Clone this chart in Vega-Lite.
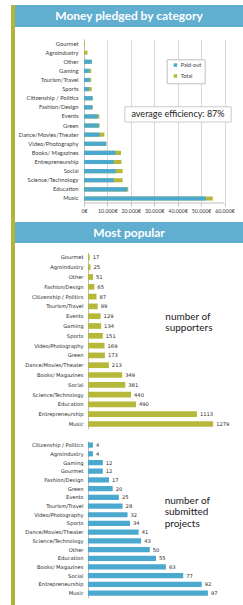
{
  "$schema": "https://vega.github.io/schema/vega-lite/v6.json",
  "padding": {"left": 11, "top": 5, "right": 0, "bottom": 0},
  "background": "white",
  "config": {
    "view": {"stroke": null},
    "font": "Lato",
    "axis": {"labelColor": "#404040", "domainColor": "#bfbfbf", "tickColor": "#bfbfbf", "labelFont": "Lato", "labelOverlap": false},
    "axisX": {"labelOverlap": false}
  },
  "spacing": 0,
  "resolve": {"legend": {"color": "independent"}},
  "hconcat": [
    {
      "width": 4,
      "height": 600,
      "view": {"fill": "#b2b43a", "stroke": null},
      "data": {"values": [{"t": ""}]},
      "mark": {"type": "text"},
      "encoding": {"text": {"field": "t"}}
    },
    {
      "spacing": 8,
      "resolve": {"legend": {"color": "independent"}},
      "vconcat": [
        {
          "spacing": 12,
          "resolve": {"legend": {"color": "independent"}},
          "vconcat": [
            {
              "width": 228,
              "height": 22,
              "view": {"fill": "#60aed0", "stroke": null},
              "data": {"values": [{"title": "Money pledged by category"}]},
              "mark": {"type": "text", "color": "white", "fontSize": 12, "fontWeight": "bold", "font": "Lato", "align": "center", "baseline": "middle"},
              "encoding": {"text": {"field": "title"}}
            },
            {
              "width": 209.5,
              "height": 164,
              "resolve": {"scale": {"y": "independent"}},
              "layer": [
                {
                  "data": {"values": [
                    {"category": "Gourmet", "series": "Total", "amount": 400},
                    {"category": "Agroindustry", "series": "Total", "amount": 1500},
                    {"category": "Other", "series": "Total", "amount": 3300},
                    {"category": "Gaming", "series": "Total", "amount": 3100},
                    {"category": "Tourism/Travel", "series": "Total", "amount": 3100},
                    {"category": "Sports", "series": "Total", "amount": 3300},
                    {"category": "Citizenship / Politics", "series": "Total", "amount": 3700},
                    {"category": "Fashion/Design", "series": "Total", "amount": 3700},
                    {"category": "Events", "series": "Total", "amount": 6600},
                    {"category": "Green", "series": "Total", "amount": 6700},
                    {"category": "Dance/Movies/Theater", "series": "Total", "amount": 8700},
                    {"category": "Video/Photography", "series": "Total", "amount": 9600},
                    {"category": "Books/ Magazines", "series": "Total", "amount": 15800},
                    {"category": "Entrepreneurship", "series": "Total", "amount": 16000},
                    {"category": "Social", "series": "Total", "amount": 16500},
                    {"category": "Science/Technology", "series": "Total", "amount": 16500},
                    {"category": "Education", "series": "Total", "amount": 18900},
                    {"category": "Music", "series": "Total", "amount": 55000},
                    {"category": "Gourmet", "series": "Paid-out", "amount": 0},
                    {"category": "Agroindustry", "series": "Paid-out", "amount": 0},
                    {"category": "Other", "series": "Paid-out", "amount": 3300},
                    {"category": "Gaming", "series": "Paid-out", "amount": 2300},
                    {"category": "Tourism/Travel", "series": "Paid-out", "amount": 2400},
                    {"category": "Sports", "series": "Paid-out", "amount": 2200},
                    {"category": "Citizenship / Politics", "series": "Paid-out", "amount": 3700},
                    {"category": "Fashion/Design", "series": "Paid-out", "amount": 3600},
                    {"category": "Events", "series": "Paid-out", "amount": 5900},
                    {"category": "Green", "series": "Paid-out", "amount": 6300},
                    {"category": "Dance/Movies/Theater", "series": "Paid-out", "amount": 6600},
                    {"category": "Video/Photography", "series": "Paid-out", "amount": 9500},
                    {"category": "Books/ Magazines", "series": "Paid-out", "amount": 13400},
                    {"category": "Entrepreneurship", "series": "Paid-out", "amount": 12700},
                    {"category": "Social", "series": "Paid-out", "amount": 13500},
                    {"category": "Science/Technology", "series": "Paid-out", "amount": 12700},
                    {"category": "Education", "series": "Paid-out", "amount": 18400},
                    {"category": "Music", "series": "Paid-out", "amount": 52000}
                  ]},
                  "mark": {"type": "bar"},
                  "encoding": {
                    "y": {
                      "field": "category", "type": "nominal",
                      "scale": {"domain": ["Gourmet", "Agroindustry", "Other", "Gaming", "Tourism/Travel", "Sports", "Citizenship / Politics", "Fashion/Design", "Events", "Green", "Dance/Movies/Theater", "Video/Photography", "Books/ Magazines", "Entrepreneurship", "Social", "Science/Technology", "Education", "Music"], "paddingInner": 0.55, "paddingOuter": 0.275},
                      "axis": {"title": null, "ticks": false, "offset": -69, "labelPadding": 6, "labelFontSize": 5.8, "labelFont": "Lato", "domainColor": "#bfbfbf"}
                    },
                    "x": {
                      "field": "amount", "type": "quantitative", "stack": null,
                      "scale": {"domain": [-29450, 60000], "nice": false, "zero": false},
                      "axis": {"title": null, "values": [0, 10000, 20000, 30000, 40000, 50000, 60000], "labelExpr": "replace(format(datum.value, ','), ',', '.') + '€'", "grid": true, "gridColor": "#d9d9d9", "domain": false, "tickSize": 3, "labelPadding": 2, "labelFontSize": 5.3, "minExtent": 0, "labelFlush": false, "labelOverlap": false}
                    },
                    "color": {
                      "field": "series", "type": "nominal",
                      "scale": {"domain": ["Paid-out", "Total"], "range": ["#4ba9cf", "#b6b83a"]},
                      "legend": {"orient": "none", "legendX": 151.7, "legendY": 20.3, "title": null, "symbolType": "square", "symbolSize": 12, "labelFontSize": 5.5, "labelFont": "Lato", "labelColor": "#404040", "strokeColor": "#bfbfbf", "fillColor": "white", "padding": 3, "rowPadding": 4, "symbolOffset": 3, "labelOffset": 2.5, "labelExpr": "datum.label + '          '"}
                    },
                    "order": {"field": "series", "sort": "descending"}
                  }
                },
                {
                  "data": {"values": [{"label": "average efficiency: 87%"}]},
                  "layer": [
                    {
                      "mark": {"type": "rule", "color": "#bfbfbf", "strokeWidth": 1},
                      "encoding": {
                        "x": {"datum": 0, "type": "quantitative", "axis": {"title": null, "values": [0, 10000, 20000, 30000, 40000, 50000, 60000], "labelExpr": "replace(format(datum.value, ','), ',', '.') + '€'", "grid": true, "gridColor": "#d9d9d9", "domain": false, "tickSize": 3, "labelPadding": 2, "labelFontSize": 5.3, "minExtent": 0, "labelFlush": false, "labelOverlap": false}},
                        "x2": {"datum": 60000},
                        "y": {"datum": 0, "type": "quantitative", "scale": {"domain": [0, 1]}, "axis": null}
                      }
                    },
                    {
                      "mark": {"type": "rect", "fill": "white", "stroke": "#bfbfbf", "strokeWidth": 0.8},
                      "encoding": {
                        "x": {"datum": 17450, "type": "quantitative", "axis": {"title": null, "values": [0, 10000, 20000, 30000, 40000, 50000, 60000], "labelExpr": "replace(format(datum.value, ','), ',', '.') + '€'", "grid": true, "gridColor": "#d9d9d9", "domain": false, "tickSize": 3, "labelPadding": 2, "labelFontSize": 5.3, "minExtent": 0, "labelFlush": false, "labelOverlap": false}},
                        "x2": {"datum": 62850},
                        "y": {"datum": 0.587, "type": "quantitative", "axis": null},
                        "y2": {"datum": 0.494}
                      }
                    },
                    {
                      "mark": {"type": "text", "font": "Lato", "fontSize": 9, "color": "#222222", "align": "center", "baseline": "middle"},
                      "encoding": {
                        "x": {"datum": 40150, "type": "quantitative", "axis": {"title": null, "values": [0, 10000, 20000, 30000, 40000, 50000, 60000], "labelExpr": "replace(format(datum.value, ','), ',', '.') + '€'", "grid": true, "gridColor": "#d9d9d9", "domain": false, "tickSize": 3, "labelPadding": 2, "labelFontSize": 5.3, "minExtent": 0, "labelFlush": false, "labelOverlap": false}},
                        "y": {"datum": 0.541, "type": "quantitative", "axis": null},
                        "text": {"field": "label"}
                      }
                    }
                  ]
                }
              ]
            }
          ]
        },
        {
          "spacing": 9.5,
          "vconcat": [
            {
              "width": 228,
              "height": 21,
              "view": {"fill": "#60aed0", "stroke": null},
              "data": {"values": [{"title": "Most popular"}]},
              "mark": {"type": "text", "color": "white", "fontSize": 12, "fontWeight": "bold", "font": "Lato", "align": "center", "baseline": "middle"},
              "encoding": {"text": {"field": "title"}}
            },
            {
              "spacing": 11.25,
              "vconcat": [
                {
                  "width": 210,
                  "height": 176.4,
                  "layer": [
                    {
                      "data": {"values": [
                        {"category": "Gourmet", "supporters": 17},
                        {"category": "Agroindustry", "supporters": 25},
                        {"category": "Other", "supporters": 51},
                        {"category": "Fashion/Design", "supporters": 65},
                        {"category": "Citizenship / Politics", "supporters": 87},
                        {"category": "Tourism/Travel", "supporters": 99},
                        {"category": "Events", "supporters": 129},
                        {"category": "Gaming", "supporters": 134},
                        {"category": "Sports", "supporters": 151},
                        {"category": "Video/Photography", "supporters": 169},
                        {"category": "Green", "supporters": 173},
                        {"category": "Dance/Movies/Theater", "supporters": 213},
                        {"category": "Books/ Magazines", "supporters": 349},
                        {"category": "Social", "supporters": 381},
                        {"category": "Science/Technology", "supporters": 440},
                        {"category": "Education", "supporters": 490},
                        {"category": "Entrepreneurship", "supporters": 1113},
                        {"category": "Music", "supporters": 1279}
                      ]},
                      "layer": [
                        {
                          "mark": {"type": "bar", "color": "#b6b83a"},
                          "encoding": {
                            "y": {
                              "field": "category", "type": "nominal",
                              "scale": {"domain": ["Gourmet", "Agroindustry", "Other", "Fashion/Design", "Citizenship / Politics", "Tourism/Travel", "Events", "Gaming", "Sports", "Video/Photography", "Green", "Dance/Movies/Theater", "Books/ Magazines", "Social", "Science/Technology", "Education", "Entrepreneurship", "Music"], "paddingInner": 0.42, "paddingOuter": 0.21},
                              "axis": {"title": null, "ticks": false, "offset": -73, "labelPadding": 5, "labelFont": "DejaVu Sans", "labelFontSize": 5.2, "labelColor": "#2a2a2a", "domainColor": "#bfbfbf"}
                            },
                            "x": {"field": "supporters", "type": "quantitative", "scale": {"domain": [-746, 1400], "nice": false, "zero": false}, "axis": null}
                          }
                        },
                        {
                          "mark": {"type": "text", "align": "left", "baseline": "middle", "dx": 3, "font": "DejaVu Sans", "fontSize": 5.2, "color": "#2a2a2a"},
                          "encoding": {
                            "y": {"field": "category", "type": "nominal"},
                            "x": {"field": "supporters", "type": "quantitative"},
                            "text": {"field": "supporters"}
                          }
                        }
                      ]
                    },
                    {
                      "data": {"values": [{"note": "number of\nsupporters"}]},
                      "mark": {"type": "text", "align": "left", "baseline": "middle", "lineBreak": "\n", "font": "Lato", "fontSize": 10, "lineHeight": 10.6, "color": "#1a1a1a", "dy": 1},
                      "encoding": {"x": {"datum": 790, "type": "quantitative"}, "y": {"datum": "Events", "type": "nominal"}, "text": {"field": "note"}}
                    }
                  ]
                },
                {
                  "width": 209,
                  "height": 156.7,
                  "layer": [
                    {
                      "data": {"values": [
                        {"category": "Citizenship / Politics", "projects": 4},
                        {"category": "Agroindustry", "projects": 4},
                        {"category": "Gaming", "projects": 12},
                        {"category": "Gourmet", "projects": 12},
                        {"category": "Fashion/Design", "projects": 17},
                        {"category": "Green", "projects": 20},
                        {"category": "Events", "projects": 25},
                        {"category": "Tourism/Travel", "projects": 28},
                        {"category": "Video/Photography", "projects": 32},
                        {"category": "Sports", "projects": 34},
                        {"category": "Dance/Movies/Theater", "projects": 41},
                        {"category": "Science/Technology", "projects": 43},
                        {"category": "Other", "projects": 50},
                        {"category": "Education", "projects": 55},
                        {"category": "Books/ Magazines", "projects": 63},
                        {"category": "Social", "projects": 77},
                        {"category": "Entrepreneurship", "projects": 92},
                        {"category": "Music", "projects": 97}
                      ]},
                      "layer": [
                        {
                          "mark": {"type": "bar", "color": "#4ba9cf"},
                          "encoding": {
                            "y": {
                              "field": "category", "type": "nominal",
                              "scale": {"domain": ["Citizenship / Politics", "Agroindustry", "Gaming", "Gourmet", "Fashion/Design", "Green", "Events", "Tourism/Travel", "Video/Photography", "Sports", "Dance/Movies/Theater", "Science/Technology", "Other", "Education", "Books/ Magazines", "Social", "Entrepreneurship", "Music"], "paddingInner": 0.4, "paddingOuter": 0.2},
                              "axis": {"title": null, "ticks": false, "offset": -73, "labelPadding": 5, "labelFont": "DejaVu Sans", "labelFontSize": 5.2, "labelColor": "#2a2a2a", "domainColor": "#bfbfbf"}
                            },
                            "x": {"field": "projects", "type": "quantitative", "scale": {"domain": [-59, 110], "nice": false, "zero": false}, "axis": null}
                          }
                        },
                        {
                          "mark": {"type": "text", "align": "left", "baseline": "middle", "dx": 3, "font": "DejaVu Sans", "fontSize": 5.2, "color": "#2a2a2a"},
                          "encoding": {
                            "y": {"field": "category", "type": "nominal"},
                            "x": {"field": "projects", "type": "quantitative"},
                            "text": {"field": "projects"}
                          }
                        }
                      ]
                    },
                    {
                      "data": {"values": [{"note": "number of\nsubmitted\nprojects"}]},
                      "mark": {"type": "text", "align": "left", "baseline": "middle", "lineBreak": "\n", "font": "Lato", "fontSize": 10, "lineHeight": 11.3, "color": "#1a1a1a", "dy": 3.8},
                      "encoding": {"x": {"datum": 62, "type": "quantitative"}, "y": {"datum": "Events", "type": "nominal"}, "text": {"field": "note"}}
                    }
                  ]
                }
              ]
            }
          ]
        }
      ]
    }
  ]
}
